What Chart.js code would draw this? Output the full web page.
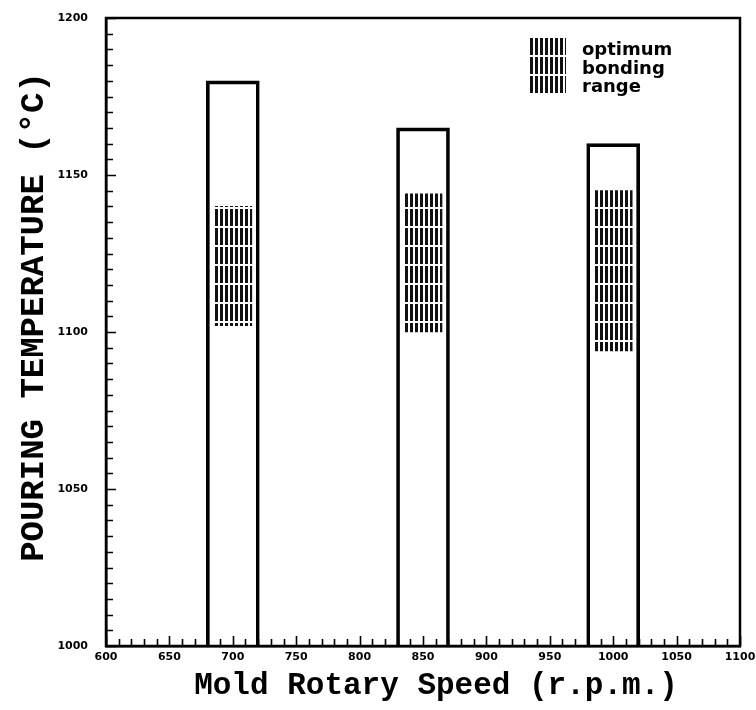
<!DOCTYPE html>
<html><head><meta charset="utf-8">
<script src="https://cdn.jsdelivr.net/npm/chart.js@4.4.1/dist/chart.umd.min.js"></script>
<style>html,body{margin:0;padding:0;background:#fff}#wrap{width:756px;height:710px;position:relative}</style>
</head><body><div id="wrap"><canvas id="c" width="756" height="710"></canvas></div>
<script>
// ---- data ----
const speeds = [700, 850, 1000];                 // mold rotary speed (r.p.m.)
const maxPouringTemp = [1180, 1165, 1160];       // top of open bars (°C)
const optimumLow = [1102, 1100, 1094];           // optimum bonding range, low (°C)
const optimumHigh = [1140, 1144, 1145];          // optimum bonding range, high (°C)
const xTickLabels = [600, 650, 700, 750, 800, 850, 900, 950, 1000, 1050, 1100];
const yTickLabels = [1000, 1050, 1100, 1150, 1200];
const legendLines = ['optimum', 'bonding', 'range'];
const xTitle = 'Mold Rotary Speed (r.p.m.)';
const yTitle = 'POURING TEMPERATURE (°C)';

const canvas = document.getElementById('c');
const ctx = canvas.getContext('2d');

function makeHatch() {
  const p = document.createElement('canvas');
  p.width = 5; p.height = 19;
  const g = p.getContext('2d');
  g.fillStyle = '#fff'; g.fillRect(0, 0, 5, 19);
  g.fillStyle = '#111'; g.fillRect(0, 0, 3, 17);
  return ctx.createPattern(p, 'repeat');
}
const hatch = makeHatch();

const outlineData = speeds.map((s, i) => ({ x: s, y: [1000, maxPouringTemp[i]] }));
const optimumData = speeds.map((s, i) => ({ x: s, y: [optimumLow[i], optimumHigh[i]] }));

const frameAndTicks = {
  id: 'frameAndTicks',
  afterDraw(chart) {
    const c = chart.ctx, a = chart.chartArea;
    const xs = chart.scales.x, ys = chart.scales.y;
    c.save();
    c.strokeStyle = '#000';
    c.lineWidth = 1.6;
    c.beginPath();
    xs.ticks.forEach(t => {
      const px = Math.round(xs.getPixelForValue(t.value)) + 0.5;
      const len = xTickLabels.includes(t.value) ? 10 : 7;
      c.moveTo(px, a.bottom); c.lineTo(px, a.bottom - len);
    });
    ys.ticks.forEach(t => {
      const py = Math.round(ys.getPixelForValue(t.value)) + 0.5;
      const len = yTickLabels.includes(t.value) ? 10 : 7;
      c.moveTo(a.left, py); c.lineTo(a.left + len, py);
    });
    c.stroke();
    c.lineWidth = 2.5;
    c.strokeRect(a.left, a.top, a.right - a.left, a.bottom - a.top);
    // axis titles
    c.fillStyle = '#000';
    c.textAlign = 'center';
    c.textBaseline = 'middle';
    c.font = 'bold 31px "Liberation Mono"';
    c.fillText(xTitle, 436, 686);
    c.save();
    c.translate(34, 317);
    c.rotate(-Math.PI / 2);
    c.font = 'bold 34px "Liberation Mono"';
    c.fillText(yTitle, 0, 0);
    c.restore();
    // legend
    c.fillStyle = hatch;
    c.fillRect(530, 38, 36, 55);
    c.fillStyle = '#000';
    c.font = 'bold 18px "DejaVu Sans"';
    c.textBaseline = 'alphabetic';
    c.textAlign = 'left';
    legendLines.forEach((s, i) => c.fillText(s, 582, 55 + i * 18.5));
    c.restore();
  }
};

new Chart(canvas, {
  type: 'bar',
  data: {
    datasets: [
      { label: 'optimum bonding range', data: optimumData, backgroundColor: hatch,
        borderWidth: 0, barThickness: 38, grouped: false, order: 0 },
      { label: 'pouring temperature', data: outlineData, backgroundColor: 'rgba(255,255,255,0)',
        borderColor: '#000', borderWidth: 3, barThickness: 53, grouped: false, order: 1 }
    ]
  },
  options: {
    responsive: false,
    devicePixelRatio: 1,
    animation: false,
    layout: { padding: { top: 18, right: 16, left: 0, bottom: 0 } },
    plugins: { legend: { display: false }, tooltip: { enabled: false } },
    scales: {
      x: {
        type: 'linear', min: 600, max: 1100, offset: false,
        afterFit(s) { s.height = 64; s.paddingLeft = 0; s.paddingRight = 0; },
        grid: { drawOnChartArea: false, drawTicks: false },
        border: { display: true, color: '#000', width: 2.5 },
        ticks: {
          stepSize: 10, autoSkip: false, maxRotation: 0, padding: 5, color: '#000',
          font: { family: '"DejaVu Sans"', size: 11, weight: 'bold' },
          callback: v => xTickLabels.includes(v) ? String(v) : ''
        },
        title: { display: false, text: xTitle }
      },
      y: {
        min: 1000, max: 1200,
        afterFit(s) { s.width = 106; s.paddingTop = 0; s.paddingBottom = 0; },
        grid: { drawOnChartArea: false, drawTicks: false },
        border: { display: true, color: '#000', width: 2.5 },
        ticks: {
          stepSize: 5, autoSkip: false, padding: 18, color: '#000',
          font: { family: '"DejaVu Sans"', size: 11, weight: 'bold' },
          callback: v => yTickLabels.includes(v) ? String(v) : ''
        },
        title: { display: false, text: yTitle }
      }
    }
  },
  plugins: [frameAndTicks]
});
</script></body></html>
